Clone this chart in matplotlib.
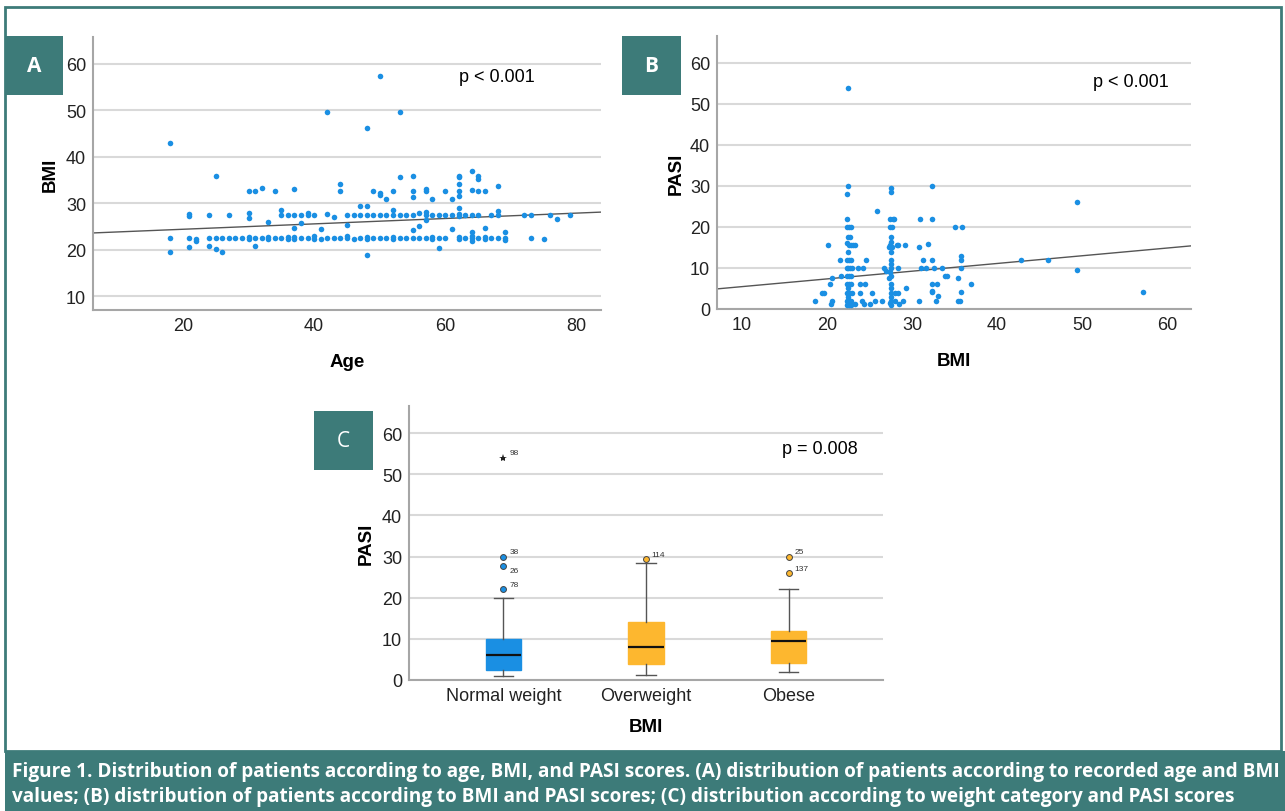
import numpy as np
import matplotlib.pyplot as plt
from matplotlib.patches import Rectangle

# Panel A: age vs BMI
age_a = [18, 21, 22, 22, 24, 25, 26, 27, 28, 29, 30, 30, 31, 32, 33, 33, 34, 35, 36, 36, 37, 37, 38, 39,
         40, 40, 41, 42, 43, 44, 45, 45, 46, 47, 48, 48, 49, 50, 51, 52, 52, 53, 54, 55, 56, 57, 58, 58, 59, 60, 62, 62,
         63, 64, 64, 64, 64, 65, 66, 66, 67, 68, 69, 69, 69, 73, 75,
         21, 21, 24, 27, 30, 30, 35, 36, 37, 38, 39, 39, 40, 42, 43, 45, 46, 47, 48, 49, 50, 51, 52, 53, 54, 55, 56,
         57, 57, 58, 59, 60, 61, 62, 62, 63, 64, 65, 67, 68, 68, 72, 73, 76, 79,
         18, 25, 30, 31, 32, 34, 37, 35, 33, 37, 38, 18, 21, 24, 25, 26, 31,
         50, 42, 53, 48, 53, 55, 44, 44, 49, 50, 50, 51, 52, 55, 55, 57, 57, 58, 60, 61, 62, 62, 62, 62, 62,
         47, 48, 52, 62, 45, 56, 55, 57, 61, 41, 48, 59,
         64, 64, 65, 65, 65, 66, 68, 66, 77]
bmi_a = [22.5, 22.6, 22.3, 21.8, 22.5, 22.5, 22.5, 22.5, 22.5, 22.5, 22.8, 22.3, 22.5, 22.5, 22.8, 22.2, 22.5, 22.5,
         22.8, 22.3, 22.8, 22.3, 22.5, 22.5,
         23.0, 22.4, 22.2, 22.5, 22.5, 22.5, 22.9, 22.6, 22.2, 22.5, 22.7, 22.3, 22.5, 22.5, 22.5, 22.7, 22.3, 22.5,
         22.5, 22.5, 22.5, 22.5, 22.7, 22.3, 22.5, 22.5, 22.8, 22.3,
         22.5, 23.8, 23.0, 22.5, 21.8, 22.5, 22.8, 22.3, 22.5, 22.5, 23.9, 22.5, 22.0, 22.5, 22.3,
         27.7, 27.2, 27.5, 27.5, 27.8, 26.9, 27.5, 27.5, 27.5, 27.5, 28.0, 27.4, 27.5, 27.7, 27.1, 27.5, 27.5, 27.5,
         27.5, 27.5, 27.5, 27.5, 27.5, 27.5, 27.5, 27.5, 27.9,
         28.1, 27.4, 27.5, 27.5, 27.5, 27.5, 27.7, 27.2, 27.5, 27.5, 27.5, 27.5, 28.4, 27.5, 27.5, 27.5, 27.5, 27.5,
         43.0, 35.9, 32.6, 32.6, 33.3, 32.6, 33.1, 28.5, 26.0, 24.7, 25.7, 19.5, 20.6, 20.7, 20.1, 19.6, 20.7,
         57.3, 49.6, 49.6, 46.1, 35.6, 35.8, 34.1, 32.6, 32.6, 32.2, 31.8, 31.0, 32.6, 32.6, 31.3, 33.1, 32.6, 31.0,
         32.6, 31.0, 35.9, 35.6, 34.2, 32.6, 31.5,
         29.4, 29.4, 28.6, 29.0, 25.4, 25.2, 24.2, 26.3, 24.4, 24.4, 18.8, 20.3,
         37.0, 32.8, 35.9, 35.2, 32.6, 32.6, 33.6, 24.6, 26.7]
fit_a = [23.23, 0.058]  # intercept, slope

# Panel B: BMI vs PASI
col22_pasi = [30, 28, 22, 20, 20, 20, 17.5, 17.5, 16, 15.6, 15.6, 14, 12, 12, 12, 10, 10, 10, 10, 8, 8, 8,
              6, 6, 6, 5, 4, 4, 4, 4, 3, 2, 2, 2, 1.5, 1, 1, 1, 53.9]
col22_bmi = [22.5, 22.4, 22.4, 22.4, 22.6, 22.8, 22.5, 22.7, 22.4, 22.6, 22.8, 22.5, 22.3, 22.6, 22.8, 22.3,
             22.5, 22.7, 22.9, 22.3, 22.6, 22.8, 22.4, 22.6, 22.8, 22.5, 22.3, 22.5, 22.7, 22.9, 22.5, 22.3,
             22.6, 22.8, 22.5, 22.3, 22.6, 22.8, 22.5]
col27_pasi = [29.5, 28.5, 22, 22, 22, 20, 20, 17.5, 16.2, 15.5, 15, 15, 14, 12, 11, 10, 9, 8, 7.5, 6, 5, 4,
              3, 2, 1, 1.5]
col27_bmi = [27.5, 27.5, 27.4, 27.7, 27.9, 27.4, 27.6, 27.5, 27.5, 27.4, 27.3, 27.6, 27.5, 27.5, 27.5, 27.5,
             27.4, 27.5, 27.3, 27.5, 27.5, 27.5, 27.5, 27.5, 27.5, 27.4]
other_bmi_b = [49.4, 49.4, 57.1, 42.8, 46.0, 36.9, 35.1, 35.9, 35.8, 35.8, 35.8, 35.4, 35.8, 35.4, 35.6,
               32.4, 32.4, 30.9, 31.9, 30.8, 31.3, 32.4, 31.0, 31.6, 32.6, 33.5, 33.9, 34.1, 32.4, 32.9, 32.4,
               32.4, 33.1, 32.8, 30.8,
               29.3, 29.2, 28.2, 28.4, 28.4, 28.0, 28.4, 28.0, 28.9, 28.5, 26.7, 26.9, 26.5, 25.9, 25.6, 25.3,
               25.0, 21.5, 21.6, 20.6, 20.1, 20.3, 19.4, 19.6, 18.6, 20.6, 20.5, 23.1, 23.3, 23.6, 24.2, 24.6,
               23.9, 24.5, 23.9, 24.1, 24.4, 23.3]
other_pasi_b = [26.0, 9.6, 4.1, 12.0, 12.0, 6.0, 20.0, 20.0, 13.0, 12.0, 10.0, 7.5, 4.1, 2.0, 2.0,
                30.0, 22.0, 22.0, 15.9, 15.0, 12.0, 12.0, 10.0, 10.0, 10.0, 10.0, 8.1, 8.1, 6.0, 6.0, 4.5,
                4.1, 3.2, 2.0, 2.0,
                5.0, 15.6, 15.6, 15.6, 10.0, 4.0, 4.0, 2.0, 2.0, 1.1, 10.0, 9.2, 2.0, 23.8, 2.0, 4.0,
                1.2, 12.0, 8.1, 7.5, 15.6, 6.0, 4.0, 4.0, 2.0, 2.0, 1.1, 15.6, 15.6, 10.0, 10.0, 12.0,
                6.0, 6.0, 4.0, 2.0, 1.2, 1.1]
fit_b = [3.57, 0.188]

# Panel C: PASI by weight category
categories = ['Normal weight', 'Overweight', 'Obese']
whislo = [1.0, 1.1, 1.9]
q1 = [2.4, 4.0, 4.2]
med = [6.0, 8.0, 9.6]
q3 = [10.0, 14.0, 12.0]
whishi = [20.0, 28.4, 22.0]
outliers = [[30.0, 27.8, 22.0], [29.4], [30.0, 26.0]]
outlier_ids = [['38', '26', '78'], ['114'], ['25', '137']]
extreme_val = 54.0
extreme_id = '98'

W, H = 1285, 812
teal = '#3d7b79'
blue = '#1a8fe3'
orange = '#fdb72f'
grid_c = '#d9d9d9'

plt.rcParams['font.family'] = ['Liberation Sans', 'DejaVu Sans']

fig = plt.figure(figsize=(W / 100, H / 100), dpi=100)


def box(l, t, r, b):
    return [l / W, 1 - b / H, (r - l) / W, (b - t) / H]


def style(ax, yticks, xticks):
    ax.set_yticks(yticks)
    ax.set_xticks(xticks)
    ax.grid(axis='y', color=grid_c, lw=1.5)
    ax.set_axisbelow(True)
    for s in ['top', 'right']:
        ax.spines[s].set_visible(False)
    for s in ['left', 'bottom']:
        ax.spines[s].set_color('#a6a6a6')
        ax.spines[s].set_linewidth(1.5)
    ax.tick_params(length=0, labelsize=13, colors='#222222', pad=5)


# A
ax1 = fig.add_axes(box(93, 38, 601, 311))
ax1.scatter(age_a, bmi_a, s=16, color=blue, lw=0, zorder=3)
xl = np.array([6.3, 83.7])
ax1.plot(xl, fit_a[0] + fit_a[1] * xl, color='#555555', lw=1, zorder=2)
ax1.set_xlim(6.3, 83.7)
ax1.set_ylim(7, 65.8)
style(ax1, [10, 20, 30, 40, 50, 60], [20, 40, 60, 80])
ax1.set_xlabel('Age', fontsize=13.5, fontweight='bold', labelpad=14)
ax1.set_ylabel('BMI', fontsize=13.5, fontweight='bold', labelpad=5)
ax1.text(0.795, 0.855, 'p < 0.001', transform=ax1.transAxes, fontsize=13, ha='center', va='center')

# B
ax2 = fig.add_axes(box(717, 37, 1191, 310))
ax2.scatter(col22_bmi + col27_bmi + other_bmi_b, col22_pasi + col27_pasi + other_pasi_b,
            s=16, color=blue, lw=0, zorder=3)
xl = np.array([7.06, 62.8])
ax2.plot(xl, fit_b[0] + fit_b[1] * xl, color='#555555', lw=1, zorder=2)
ax2.set_xlim(7.06, 62.8)
ax2.set_ylim(0, 66.5)
style(ax2, [0, 10, 20, 30, 40, 50, 60], [10, 20, 30, 40, 50, 60])
ax2.set_xlabel('BMI', fontsize=13.5, fontweight='bold', labelpad=14)
ax2.set_ylabel('PASI', fontsize=13.5, fontweight='bold', labelpad=4)
ax2.text(0.873, 0.835, 'p < 0.001', transform=ax2.transAxes, fontsize=13, ha='center', va='center')

# C
ax3 = fig.add_axes(box(409, 407, 883, 681))
pos = [1, 2, 3]
stats = [dict(whislo=whislo[i], q1=q1[i], med=med[i], q3=q3[i], whishi=whishi[i], fliers=[])
         for i in range(3)]
bp = ax3.bxp(stats, positions=pos, widths=0.25, capwidths=0.14, patch_artist=True, showfliers=False,
             medianprops=dict(color='#111111', lw=1.6),
             whiskerprops=dict(color='#555555', lw=1),
             capprops=dict(color='#555555', lw=1))
fills = [blue, orange, orange]
for p, c in zip(bp['boxes'], fills):
    p.set_facecolor(c)
    p.set_edgecolor(c)
for i in range(3):
    ax3.scatter([pos[i]] * len(outliers[i]), outliers[i], s=18, color=fills[i],
                edgecolor='#444444', lw=0.7, zorder=4)
    for v, lab in zip(outliers[i], outlier_ids[i]):
        dy = -1.2 if lab == '26' else 1.2
        ax3.text(pos[i] + 0.04, v + dy, lab, fontsize=6, color='#333333', ha='left', va='center')
ax3.plot([1], [extreme_val], marker='*', color='#222222', ms=6, lw=0, mew=0)
ax3.text(1.04, extreme_val + 1.2, extreme_id, fontsize=6, color='#333333', ha='left', va='center')
ax3.set_xlim(0.337, 3.663)
ax3.set_ylim(0, 66.6)
style(ax3, [0, 10, 20, 30, 40, 50, 60], pos)
ax3.set_xticklabels(categories)
ax3.set_xlabel('BMI', fontsize=13.5, fontweight='bold', labelpad=10)
ax3.set_ylabel('PASI', fontsize=13.5, fontweight='bold', labelpad=5)
ax3.text(0.867, 0.845, 'p = 0.008', transform=ax3.transAxes, fontsize=13, ha='center', va='center')

# frame, letter boxes and caption
fig.add_artist(Rectangle((5 / W, 1 - 752 / H), 1276 / W, 744 / H, transform=fig.transFigure,
                         fill=False, edgecolor=teal, lw=2))
fig.add_artist(Rectangle((5 / W, 0), 1280 / W, 60 / H, transform=fig.transFigure,
                         facecolor=teal, edgecolor='none'))
for lab, (l, t, r, b) in zip(['A', 'B', 'C'], [(5, 37, 63, 96), (622, 37, 681, 96), (314, 412, 373, 471)]):
    fig.add_artist(Rectangle((l / W, 1 - b / H), (r - l) / W, (b - t) / H, transform=fig.transFigure,
                             facecolor=teal, edgecolor='none'))
    fig.text((l + r) / 2 / W, 1 - (t + b) / 2 / H, lab, color='white', fontsize=15,
             fontweight='bold' if lab != 'C' else 'normal', ha='center', va='center', family='Open Sans')

cap1 = ('Figure 1. Distribution of patients according to age, BMI, and PASI scores. (A) distribution of '
        'patients according to recorded age and BMI')
cap2 = ('values; (B) distribution of patients according to BMI and PASI scores; (C) distribution according '
        'to weight category and PASI scores')
fig.text(12 / W, 1 - 772 / H, cap1, color='white', fontsize=13.7, fontweight='bold', family='Open Sans',
         va='center', ha='left')
fig.text(12 / W, 1 - 797 / H, cap2, color='white', fontsize=13.7, fontweight='bold', family='Open Sans',
         va='center', ha='left')

fig.savefig('out.png', dpi=100)
